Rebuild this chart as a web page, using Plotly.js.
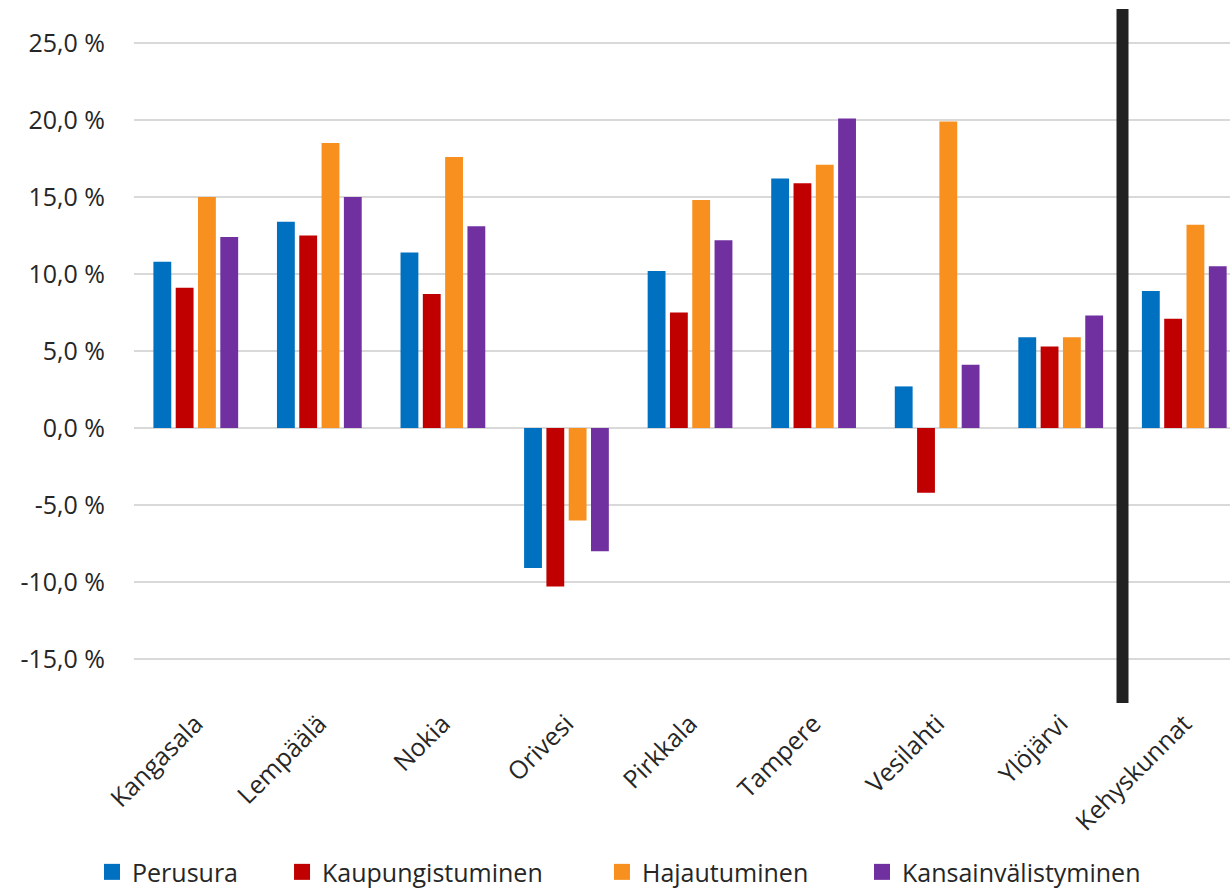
<!DOCTYPE html>
<html>
<head>
<meta charset="utf-8">
<script src="https://cdn.plot.ly/plotly-3.0.1.min.js"></script>
<style>html,body{margin:0;padding:0;background:#fff;}#chart{width:1230px;height:889px;}</style>
</head>
<body>
<div id="chart"></div>
<script>
const categories = ["Kangasala","Lempäälä","Nokia","Orivesi","Pirkkala","Tampere","Vesilahti","Ylöjärvi","Kehyskunnat"];
const seriesNames = ["Perusura","Kaupungistuminen","Hajautuminen","Kansainvälistyminen"];
const perusura = [10.8, 13.4, 11.4, -9.1, 10.2, 16.2, 2.7, 5.9, 8.9];
const kaupungistuminen = [9.1, 12.5, 8.7, -10.3, 7.5, 15.9, -4.2, 5.3, 7.1];
const hajautuminen = [15.0, 18.5, 17.6, -6.0, 14.8, 17.1, 19.9, 5.9, 13.2];
const kansainvalistyminen = [12.4, 15.0, 13.1, -8.0, 12.2, 20.1, 4.1, 7.3, 10.5];
const colors = ["#0070C0","#C00000","#F7901E","#7030A0"];
const tickVals = [-15,-10,-5,0,5,10,15,20,25];
const tickText = ["-15,0 %","-10,0 %","-5,0 %","0,0 %","5,0 %","10,0 %","15,0 %","20,0 %","25,0 %"];

const allSeries = [perusura, kaupungistuminen, hajautuminen, kansainvalistyminen];
const FONT = "Open Sans, Lato, sans-serif";
const TXT = "#262626";
const legendIds = ["legend","legend2","legend3","legend4"];
const legendX = [0.0748, 0.2293, 0.4894, 0.7008];

const barTraces = allSeries.map((vals, i) => ({
  type: "bar",
  name: seriesNames[i],
  x: categories,
  y: vals,
  marker: {color: colors[i]},
  showlegend: false,
  hoverinfo: "skip"
}));
// legend-only entries with larger square symbols, one legend each
const legendTraces = seriesNames.map((n, i) => ({
  type: "scatter", mode: "markers",
  name: n, x: [null], y: [null],
  marker: {symbol: "square", size: 16, color: colors[i]},
  showlegend: true, legend: legendIds[i], hoverinfo: "skip"
}));

const layout = {
  width: 1230, height: 889,
  margin: {l: 134, r: 0, t: 9, b: 186},
  paper_bgcolor: "#fff", plot_bgcolor: "#fff",
  font: {family: FONT, color: TXT, size: 24},
  barmode: "group",
  bargap: 0.278,
  bargroupgap: 0.2,
  showlegend: true,
  xaxis: {
    type: "category",
    range: [-0.5, 8.37],
    tickangle: -45,
    showgrid: false, zeroline: false, showline: false,
    ticks: "",
    tickfont: {size: 25, family: FONT, color: TXT}
  },
  yaxis: {
    range: [-17.86, 27.21],
    tickvals: tickVals, ticktext: tickText,
    showgrid: true, gridcolor: "#d9d9d9", gridwidth: 1.5,
    zeroline: true, zerolinecolor: "#d9d9d9", zerolinewidth: 1.5,
    showline: false, ticks: "",
    ticklabelstandoff: 28,
    tickfont: {size: 25, family: FONT, color: TXT}
  },
  shapes: [{
    type: "line", xref: "x", yref: "paper",
    x0: 7.5, x1: 7.5, y0: 0, y1: 1,
    line: {color: "#222222", width: 12}
  }]
};
legendIds.forEach((id, i) => {
  layout[id] = {
    orientation: "h", xref: "container", yref: "container",
    x: legendX[i], xanchor: "left", y: 0.019, yanchor: "middle",
    font: {size: 25, family: FONT, color: TXT},
    itemsizing: "trace", itemwidth: 30, bgcolor: "rgba(0,0,0,0)"
  };
});

Plotly.newPlot("chart", barTraces.concat(legendTraces), layout, {displayModeBar: false, staticPlot: true});
</script>
</body>
</html>
